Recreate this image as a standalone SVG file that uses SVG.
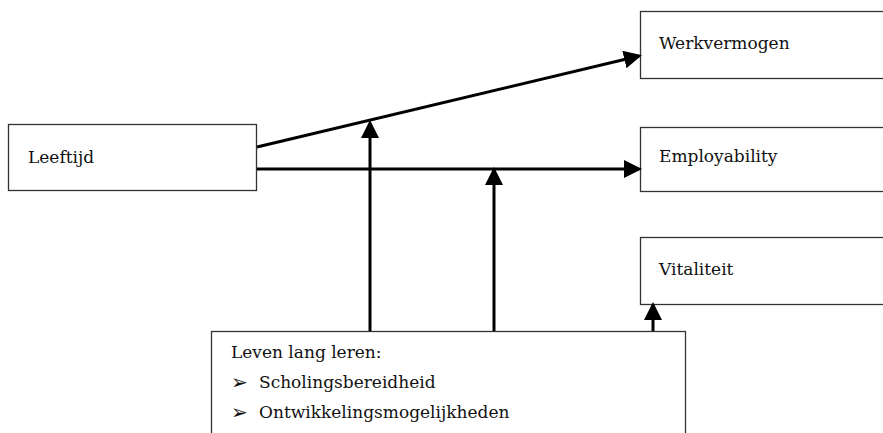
<svg xmlns="http://www.w3.org/2000/svg" width="883" height="433" viewBox="0 0 883 433">
<style>
.box{fill:#fff;stroke:#333;stroke-width:1.3}
.t{font-family:"DejaVu Serif","Liberation Serif",serif;font-size:17px;fill:#111}
.b{font-family:"DejaVu Sans","Noto Sans",sans-serif;font-size:20px;fill:#111}
.c{stroke:#000;stroke-width:3;fill:none}
</style>
<defs>
<marker id="ah" markerWidth="6" markerHeight="6" refX="5" refY="3" orient="auto" markerUnits="strokeWidth">
<path d="M0,0 L6,3 L0,6 z" fill="#000"/>
</marker>
</defs>
<rect width="883" height="433" fill="#fff"/>
<g id="leeftijd"><rect class="box" x="8.5" y="124.5" width="248" height="66"/><text class="t" x="28" y="163">Leeftijd</text></g>
<g id="werkvermogen"><rect class="box" x="640.5" y="11.5" width="260" height="67"/><text class="t" x="659" y="49">Werkvermogen</text></g>
<g id="employability"><rect class="box" x="640.5" y="127.5" width="260" height="64"/><text class="t" x="659" y="162">Employability</text></g>
<g id="vitaliteit"><rect class="box" x="640.5" y="237.5" width="260" height="67"/><text class="t" x="659" y="275">Vitaliteit</text></g>
<g id="leren"><rect class="box" x="211.5" y="331.5" width="474" height="120"/>
<text class="t" x="231" y="358">Leven lang leren:</text>
<text class="b" x="231" y="389">➢</text><text class="t" x="259" y="388">Scholingsbereidheid</text>
<text class="b" x="231" y="419">➢</text><text class="t" x="259" y="418">Ontwikkelingsmogelijkheden</text>
</g>
<g id="connectors">
<line class="c" x1="257" y1="147" x2="639" y2="56" marker-end="url(#ah)"/>
<line class="c" x1="257" y1="169" x2="639" y2="169" marker-end="url(#ah)"/>
<line class="c" x1="370" y1="331" x2="370" y2="123" marker-end="url(#ah)"/>
<line class="c" x1="494" y1="331" x2="494" y2="170" marker-end="url(#ah)"/>
<line class="c" x1="653" y1="331" x2="653" y2="305" marker-end="url(#ah)"/>
</g>
</svg>
